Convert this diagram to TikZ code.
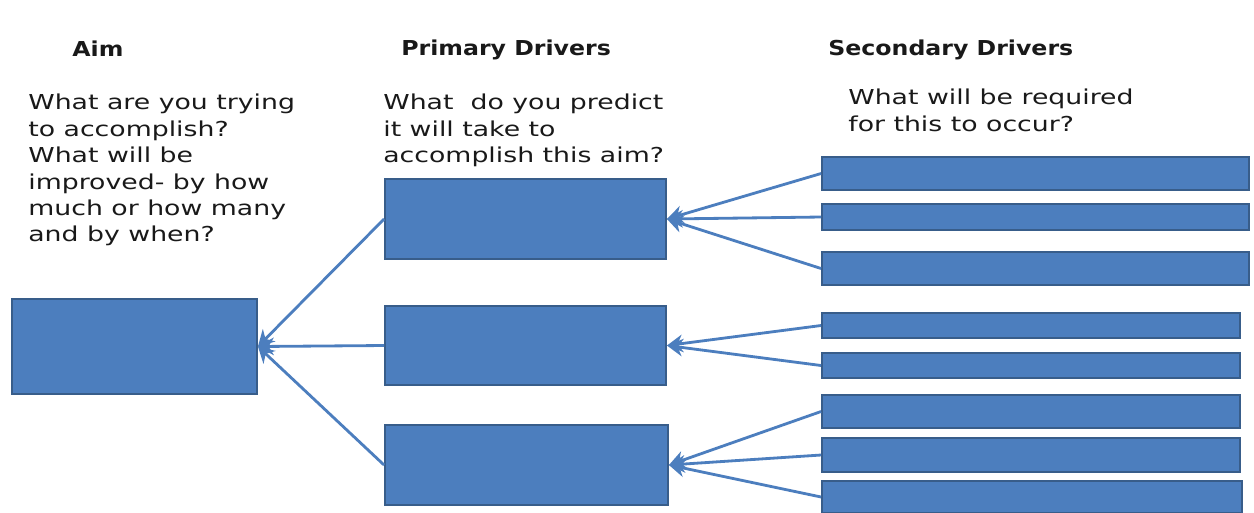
\documentclass[tikz,border=0pt]{standalone}
\usepackage{fontspec}
\newfontfamily\drvbody[FakeStretch=1.3]{DejaVu Sans}
\newfontfamily\drvhead[FakeStretch=1.15]{DejaVu Sans}
\usetikzlibrary{arrows.meta, positioning}

\definecolor{drvblue}{RGB}{76,126,190}
\definecolor{drvedge}{RGB}{56,93,138}
\definecolor{drvtext}{RGB}{25,25,25}

\begin{document}
\begin{tikzpicture}[
  x=0.02cm, y=-0.02cm,
  drvbox/.style={draw=drvedge, fill=drvblue, line width=1.1pt, inner sep=0pt},
  drvlink/.style={draw=drvblue, line width=1.6pt, -{Stealth[length=9pt,width=10pt]}},
  heading/.style={font=\drvhead\bfseries\fontsize{11.7}{14}\selectfont, text=drvtext, anchor=base west, inner sep=0pt},
  question/.style={font=\drvbody\fontsize{11.7}{15}\selectfont, text=drvtext, anchor=north west, align=left, inner sep=0pt}]

  \useasboundingbox (0,0) rectangle (1254,512);

  % column headings and questions
  \node[heading] (haim) at (72,56) {Aim};
  \node[heading] (hpri) at (401,55) {Primary Drivers};
  \node[heading] (hsec) at (828,55) {Secondary Drivers};

  \node[question] (qaim) at (28,94) {What are you trying\\to accomplish?\\What will be\\improved- by how\\much or how many\\and by when?};
  \node[question] (qpri) at (383,94) {What\ \ do you predict\\it will take to\\accomplish this aim?};
  \node[question] (qsec) at (848,89) {What will be required\\for this to occur?};

  % aim
  \node[drvbox, minimum width=4.9cm, minimum height=1.9cm] (aim) at (134.5,346.5) {};

  % primary drivers
  \node[drvbox, minimum width=5.62cm, minimum height=1.6cm] (p1) at (525.5,219) {};
  \node[drvbox, minimum width=5.62cm, minimum height=1.58cm] (p2) at (525.5,345.5) {};
  \node[drvbox, minimum width=5.66cm, minimum height=1.6cm] (p3) at (526.5,465) {};

  % secondary drivers
  \node[drvbox, minimum width=8.54cm, minimum height=0.66cm] (s1) at (1035.5,173.5) {};
  \node[drvbox, minimum width=8.54cm, minimum height=0.52cm] (s2) at (1035.5,217) {};
  \node[drvbox, minimum width=8.54cm, minimum height=0.66cm] (s3) at (1035.5,268.5) {};
  \node[drvbox, minimum width=8.36cm, minimum height=0.5cm] (s4) at (1031,325.5) {};
  \node[drvbox, minimum width=8.36cm, minimum height=0.5cm] (s5) at (1031,365.5) {};
  \node[drvbox, minimum width=8.36cm, minimum height=0.66cm] (s6) at (1031,411.5) {};
  \node[drvbox, minimum width=8.36cm, minimum height=0.68cm] (s7) at (1031,455) {};
  \node[drvbox, minimum width=8.4cm, minimum height=0.64cm] (s8) at (1032,497) {};

  % links
  \foreach \p in {p1,p2,p3}
    \draw[drvlink] (\p.west) -- (aim.east);
  \foreach \s in {s1,s2,s3}
    \draw[drvlink] (\s.west) -- (p1.east);
  \foreach \s in {s4,s5}
    \draw[drvlink] (\s.west) -- (p2.east);
  \foreach \s in {s6,s7,s8}
    \draw[drvlink] (\s.west) -- (p3.east);
\end{tikzpicture}
\end{document}
